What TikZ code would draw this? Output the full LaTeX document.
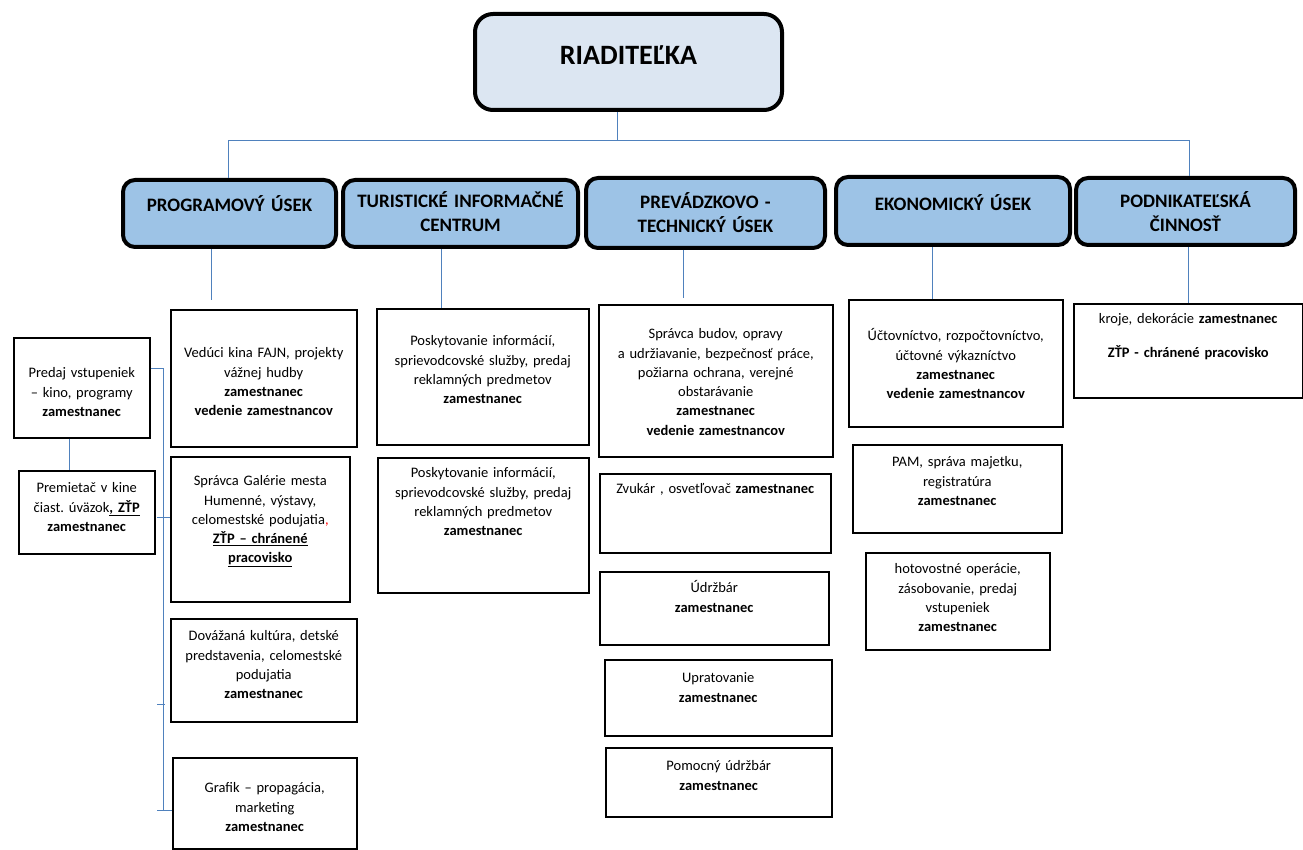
\documentclass[tikz,border=0pt]{standalone}
\usepackage{fontspec}
\setmainfont{Carlito}
\frenchspacing
\usetikzlibrary{positioning}
\definecolor{linkblue}{RGB}{79,129,189}
\definecolor{deptfill}{RGB}{157,195,230}
\definecolor{headfill}{RGB}{220,230,242}

\begin{document}
\begin{tikzpicture}[x=1pt,y=-1pt,
  unit/.style={draw,line width=1.5pt,anchor=north west,align=center,
    inner xsep=4pt,inner ysep=0pt,font=\fontsize{14.5}{19.3}\selectfont},
  dept/.style={unit,rounded corners=12pt,line width=4pt,fill=deptfill,
    font=\fontsize{19}{24}\selectfont\bfseries},
  link/.style={draw=linkblue,line width=0.9pt}]

  \useasboundingbox (0,0) rectangle (1303,850);

  % top
  \node[dept,fill=headfill,rounded corners=18pt,text width=299pt,text height=51pt,
    text depth=45pt,font=\fontsize{28}{32}\selectfont\bfseries] (riad) at (473,12) {RIADITEĽKA};

  % departments
  \node[dept,text width=205pt,text height=32pt,text depth=35pt] (prog) at (121,178) {PROGRAMOVÝ ÚSEK};
  \node[dept,text width=227pt,text height=28pt,text depth=39pt] (tic) at (341,178) {TURISTICKÉ INFORMAČNÉ\\ CENTRUM};
  \node[dept,text width=231pt,text height=31pt,text depth=39pt] (prev) at (584,176) {PREVÁDZKOVO -\\ TECHNICKÝ ÚSEK};
  \node[dept,text width=226pt,text height=34pt,text depth=34pt] (ekon) at (834,175) {EKONOMICKÝ ÚSEK};
  \node[dept,text width=211pt,text height=30pt,text depth=37pt] (podn) at (1074,176) {PODNIKATEĽSKÁ\\ ČINNOSŤ};

  % programovy usek
  \node[unit,text width=128pt,text height=40pt,text depth=60pt] (predaj) at (13,337)
    {Predaj vstupeniek\\ – kino, programy\\ \textbf{zamestnanec}};
  \node[unit,text width=128pt,text height=22pt,text depth=61pt] (premietac) at (18,470)
    {Premietač v kine\\ čiast. úväzok\textbf{\underline{, ZŤP}}\\ \textbf{zamestnanec}};
  \node[unit,text width=178pt,text height=48pt,text depth=89pt] (veduci) at (170,309)
    {Vedúci kina FAJN, projekty\\ vážnej hudby\\ \textbf{zamestnanec}\\ \textbf{vedenie zamestnancov}};
  \node[unit,text width=171pt,text height=29pt,text depth=116pt] (galeria) at (170,456)
    {Správca Galérie mesta\\ Humenné, výstavy,\\ celomestské podujatia\textcolor{red}{,}\\
     \textbf{\underline{ZŤP – chránené}}\\ \textbf{\underline{pracovisko}}};
  \node[unit,text width=178pt,text height=22pt,text depth=81pt] (dovazana) at (170,618)
    {Dovážaná kultúra, detské\\ predstavenia, celomestské\\ podujatia\\ \textbf{zamestnanec}};
  \node[unit,text width=176pt,text height=35pt,text depth=56pt] (grafik) at (172,757)
    {Grafik – propagácia,\\ marketing\\ \textbf{zamestnanec}};

  % turisticke informacne centrum
  \node[unit,text width=204pt,text height=37pt,text depth=99pt] (info1) at (376,308)
    {Poskytovanie informácií,\\ sprievodcovské služby, predaj\\ reklamných predmetov\\ \textbf{zamestnanec}};
  \node[unit,text width=203pt,text height=20pt,text depth=115pt] (info2) at (377,457)
    {Poskytovanie informácií,\\ sprievodcovské služby, predaj\\ reklamných predmetov\\ \textbf{zamestnanec}};

  % prevadzkovo-technicky usek
  \node[unit,text width=226pt,text height=34pt,text depth=118pt] (budovy) at (598,304)
    {Správca budov, opravy\\ a udržiavanie, bezpečnosť práce,\\ požiarna ochrana, verejné\\ obstarávanie\\
     \textbf{zamestnanec}\\ \textbf{vedenie zamestnancov}};
  \node[unit,text width=223pt,text height=20pt,text depth=59pt] (zvukar) at (599,473)
    {Zvukár , osvetľovač \textbf{zamestnanec}};
  \node[unit,text width=221pt,text height=21pt,text depth=52pt] (udrzbar) at (599,571)
    {Údržbár\\ \textbf{zamestnanec}};
  \node[unit,text width=219pt,text height=23pt,text depth=53pt] (upratovanie) at (604,659)
    {Upratovanie\\ \textbf{zamestnanec}};
  \node[unit,text width=218pt,text height=23pt,text depth=46pt] (pomocny) at (605,747)
    {Pomocný údržbár\\ \textbf{zamestnanec}};

  % ekonomicky usek
  \node[unit,text width=206pt,text height=41pt,text depth=86pt] (uctovnictvo) at (848,299)
    {Účtovníctvo, rozpočtovníctvo,\\ účtovné výkazníctvo\\ \textbf{zamestnanec}\\ \textbf{vedenie zamestnancov}};
  \node[unit,text width=201pt,text height=22pt,text depth=66pt] (pam) at (852,444)
    {PAM, správa majetku,\\ registratúra\\ \textbf{zamestnanec}};
  \node[unit,text width=176pt,text height=21pt,text depth=76pt] (hotovost) at (865,552)
    {hotovostné operácie,\\ zásobovanie, predaj\\ vstupeniek\\ \textbf{zamestnanec}};

  % podnikatelska cinnost
  \node[unit,text width=221pt,text height=20pt,text depth=74pt] (kroje) at (1073,303)
    {kroje, dekorácie \textbf{zamestnanec}\\[14pt] \textbf{ZŤP - chránené pracovisko}};

  % connectors
  \coordinate (bus) at (617,140);
  \coordinate (busL) at (228,140);
  \coordinate (busR) at (1189,140);
  \coordinate (spine) at (163,368);
  \draw[link] (riad.south -| bus) -- (bus);
  \draw[link] (prog.north -| busL) -- (busL) -- (busR) -- (podn.north -| busR);
  \draw[link] (prog.south -| 211,0) -- (211,300);
  \draw[link] (tic.south -| 441,0) -- (info1.north -| 441,0);
  \draw[link] (prev.south -| 683,0) -- (683,298);
  \draw[link] (ekon.south -| 932,0) -- (uctovnictvo.north -| 932,0);
  \draw[link] (podn.south -| 1188,0) -- (kroje.north -| 1188,0);
  \draw[link] (predaj.south -| 69,0) -- (premietac.north -| 69,0);
  \draw[link] (predaj.east |- spine) -- (spine) -- (163,810);
  \draw[link] (157,517) -- (galeria.west |- 0,517);
  \draw[link] (157,704) -- (165,704);
  \draw[link] (157,810) -- (grafik.west |- 0,810);

\end{tikzpicture}
\end{document}
